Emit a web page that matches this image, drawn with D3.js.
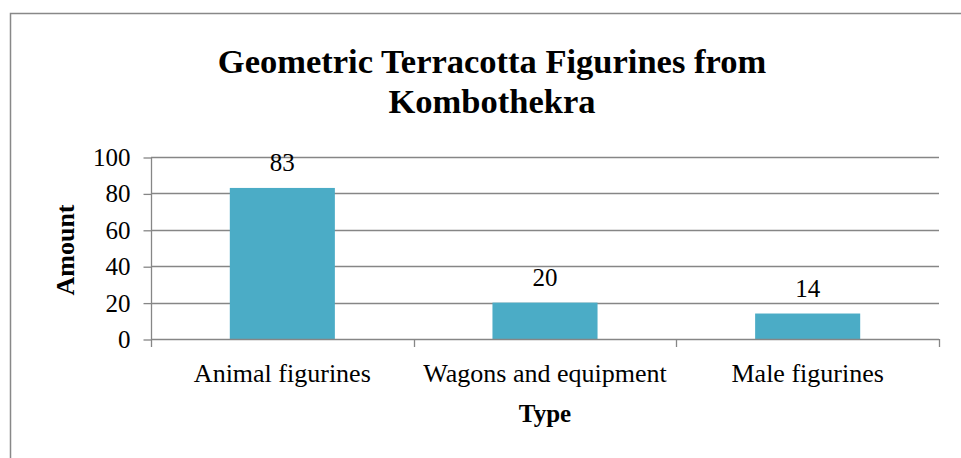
<!DOCTYPE html>
<html>
<head>
<meta charset="utf-8">
<script src="https://cdn.jsdelivr.net/npm/d3@7"></script>
<style>
  body { margin: 0; background: #fff; }
  text { font-family: "Liberation Serif", "Times New Roman", serif; fill: #000; }
</style>
</head>
<body>
<div id="chart"></div>
<script>
(function () {
    let categories = ["Animal figurines", "Wagons and equipment", "Male figurines"]
    let amounts = [83, 20, 14]
    let yTicks = [0, 20, 40, 60, 80, 100]
    let titleLines = ["Geometric Terracotta Figurines from", "Kombothekra"]

    let w = 961
    let h = 458
    let left = 151, right = 939, top = 157, bottom = 339
    let svg = d3.select("#chart")
        .append("svg")
        .attr("width", w)
        .attr("height", h)

    // chart border (runs off the right and bottom edge)
    svg.append("rect")
        .attr("x", 10.5).attr("y", 13.5)
        .attr("width", 980).attr("height", 480)
        .attr("fill", "none")
        .attr("stroke", "#888")
        .attr("stroke-width", 1.5)

    let x = d3.scaleBand()
        .domain(categories)
        .range([left, right])
        .paddingInner(0.6)
        .paddingOuter(0.3)

    let xOuter = d3.scaleBand()
        .domain(categories)
        .range([left, right])

    let y = d3.scaleLinear()
        .domain([0, 100])
        .range([bottom, top])

    // gridlines
    svg.append("g")
        .selectAll("line")
        .data(yTicks.slice(1))
        .enter().append("line")
        .attr("x1", left).attr("x2", right)
        .attr("y1", d => Math.round(y(d)) + 0.5)
        .attr("y2", d => Math.round(y(d)) + 0.5)
        .attr("stroke", "#868686")
        .attr("stroke-width", 1.3)

    // y axis
    let yAxis = d3.axisLeft(y)
        .tickValues(yTicks)
        .tickSize(8)
        .tickPadding(13)
    let gy = svg.append("g")
        .attr("transform", "translate(" + (left + 0.5) + ",0.5)")
        .call(yAxis)
    gy.selectAll("line, path").attr("stroke", "#868686").attr("stroke-width", 1.3)
    gy.select(".domain").attr("d", "M0," + y(0) + "V" + y(100))
    gy.selectAll("text")
        .style("font-size", "25px")
        .style("font-family", "'Liberation Serif', serif")
        .attr("fill", "#000")

    // bars
    svg.append("g")
        .selectAll("rect")
        .data(amounts)
        .enter().append("rect")
        .attr("x", (d, i) => x(categories[i]))
        .attr("width", x.bandwidth())
        .attr("y", d => y(d))
        .attr("height", d => y(0) - y(d))
        .attr("fill", "#4BACC6")

    // value labels
    svg.append("g")
        .selectAll("text")
        .data(amounts)
        .enter().append("text")
        .attr("x", (d, i) => x(categories[i]) + x.bandwidth() / 2)
        .attr("y", d => y(d) - 17)
        .attr("text-anchor", "middle")
        .style("font-size", "25px")
        .text(d => d)

    // x axis line with ticks at category boundaries
    let gx = svg.append("g")
    gx.append("line")
        .attr("x1", left).attr("x2", right)
        .attr("y1", bottom + 0.5).attr("y2", bottom + 0.5)
        .attr("stroke", "#868686").attr("stroke-width", 1.3)
    let bounds = categories.map(c => xOuter(c)).concat([right])
    gx.selectAll("line.tick")
        .data(bounds)
        .enter().append("line")
        .attr("class", "tick")
        .attr("x1", d => Math.round(d) + 0.5).attr("x2", d => Math.round(d) + 0.5)
        .attr("y1", bottom).attr("y2", bottom + 8)
        .attr("stroke", "#868686").attr("stroke-width", 1.3)
    gx.selectAll("text")
        .data(categories)
        .enter().append("text")
        .attr("x", d => xOuter(d) + xOuter.bandwidth() / 2)
        .attr("y", 382)
        .attr("text-anchor", "middle")
        .style("font-size", "26px")
        .text(d => d)

    // title
    svg.append("g")
        .selectAll("text")
        .data(titleLines)
        .enter().append("text")
        .attr("x", 492)
        .attr("y", (d, i) => 73 + i * 40)
        .attr("text-anchor", "middle")
        .style("font-size", "34.5px")
        .style("font-weight", "bold")
        .text(d => d)

    // axis titles
    svg.append("text")
        .attr("transform", "rotate(-90)")
        .attr("x", -250)
        .attr("y", 74)
        .attr("text-anchor", "middle")
        .style("font-size", "26px")
        .style("font-weight", "bold")
        .text("Amount")

    svg.append("text")
        .attr("x", (left + right) / 2)
        .attr("y", 422)
        .attr("text-anchor", "middle")
        .style("font-size", "25px")
        .style("font-weight", "bold")
        .text("Type")
})()
</script>
</body>
</html>
